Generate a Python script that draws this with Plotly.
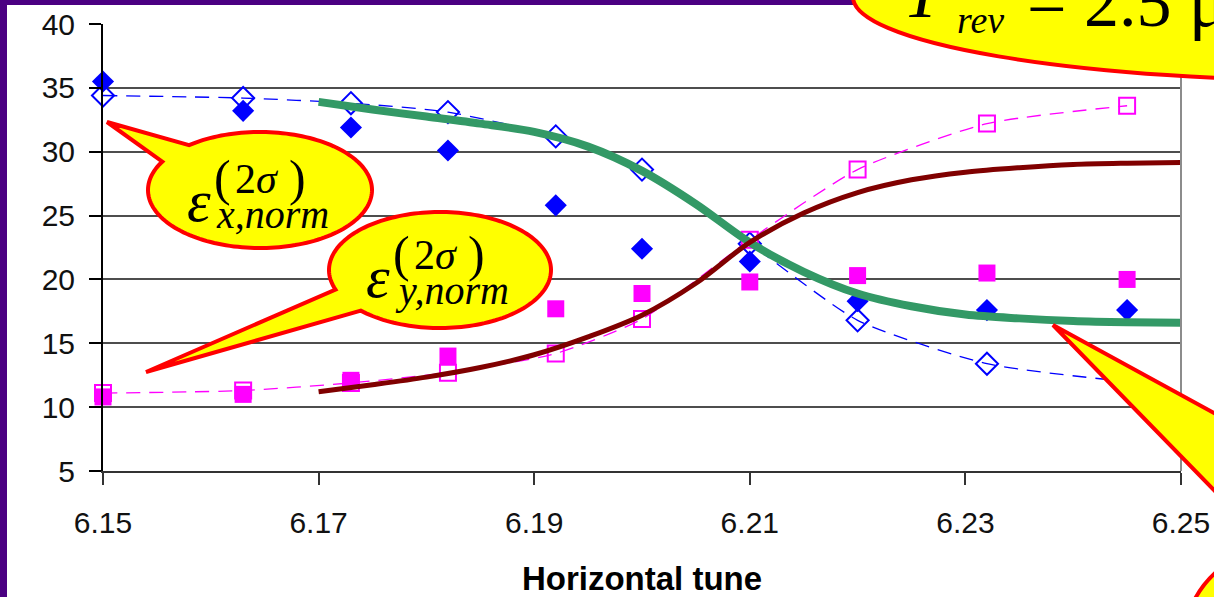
import math
import plotly.graph_objects as go

# ---- measured emittances vs horizontal tune ----
tune = [6.150, 6.163, 6.173, 6.182, 6.192, 6.200, 6.210, 6.220, 6.232, 6.245]
ex_filled = [35.5, 33.2, 31.9, 30.1, 25.8, 22.4, 21.4, 18.3, 17.6, 17.6]
ex_open = [34.4, 34.2, 33.8, 33.1, 31.2, 28.6, 22.8, 16.8, 13.4, 12.0]
ey_filled = [10.8, 11.0, 12.1, 14.0, 17.7, 18.9, 19.8, 20.3, 20.5, 20.0]
ey_open = [11.1, 11.3, 11.9, 12.7, 14.2, 16.9, 23.1, 28.6, 32.2, 33.6]

# ---- fitted curves ----
fit_tune = [6.170, 6.175, 6.180, 6.185, 6.190, 6.195, 6.200, 6.205, 6.210,
            6.215, 6.220, 6.225, 6.230, 6.235, 6.240, 6.245, 6.250]
ex_fit = [33.9, 33.3, 32.75, 32.2, 31.55, 30.4, 28.5, 25.9, 22.9,
          20.6, 18.9, 17.9, 17.25, 16.95, 16.75, 16.65, 16.6]
ey_fit = [11.2, 11.75, 12.35, 13.1, 14.1, 15.5, 17.2, 19.7, 22.9,
          25.2, 26.8, 27.8, 28.4, 28.75, 29.0, 29.1, 29.15]

x_ticks = [6.15, 6.17, 6.19, 6.21, 6.23, 6.25]
y_ticks = [5, 10, 15, 20, 25, 30, 35, 40]

W, H = 1214, 597
PL, PR, PT, PB = 103, 1181, 24, 471   # plot area in pixels


def px(x):
    return (x - PL) / (PR - PL)


def py(y):
    return (PB - y) / (PB - PT)


BLUE = "#0000FF"
MAGENTA = "#FF00FF"
GREEN = "#339966"
DARKRED = "#800000"
SERIF = "Liberation Serif, Times New Roman, serif"
SANS = "Liberation Sans, Arial, sans-serif"

fig = go.Figure()

fig.add_trace(go.Scatter(
    x=tune, y=ex_open, mode="lines+markers", cliponaxis=False,
    line=dict(color=BLUE, width=1.3, dash="14px,9px", shape="spline", smoothing=0.6),
    marker=dict(symbol="diamond-open", size=17, color=BLUE, line=dict(width=2, color=BLUE)),
))
fig.add_trace(go.Scatter(
    x=tune, y=ey_open, mode="lines+markers", cliponaxis=False,
    line=dict(color=MAGENTA, width=1.3, dash="14px,9px", shape="spline", smoothing=0.6),
    marker=dict(symbol="square-open", size=16, color=MAGENTA, line=dict(width=2, color=MAGENTA)),
))
fig.add_trace(go.Scatter(
    x=tune, y=ex_filled, mode="markers", cliponaxis=False,
    marker=dict(symbol="diamond", size=17, color=BLUE),
))
fig.add_trace(go.Scatter(
    x=tune, y=ey_filled, mode="markers", cliponaxis=False,
    marker=dict(symbol="square", size=17, color=MAGENTA),
))
fig.add_trace(go.Scatter(
    x=fit_tune, y=ex_fit, mode="lines", cliponaxis=False,
    line=dict(color=GREEN, width=8, shape="spline", smoothing=0.9),
))
fig.add_trace(go.Scatter(
    x=fit_tune, y=ey_fit, mode="lines", cliponaxis=False,
    line=dict(color=DARKRED, width=5, shape="spline", smoothing=0.9),
))

shapes = []
# white slide panel on the purple frame
shapes.append(dict(type="rect", xref="paper", yref="paper", layer="below",
                   x0=px(7), x1=px(W + 20), y0=py(5), y1=py(H + 20),
                   fillcolor="white", line=dict(width=0)))
# right border of the plot area
shapes.append(dict(type="line", xref="paper", yref="paper",
                   x0=1, x1=1, y0=0, y1=1, line=dict(color="#8c8c8c", width=2)))


def callout(cx, cy, rx, ry, tip, a0, a1, n=160):
    pts = [tip]
    for i in range(n + 1):
        t = math.radians(a0 + (a1 - a0) * i / n)
        pts.append((cx + rx * math.cos(t), cy + ry * math.sin(t)))
    d = "M {:.5f},{:.5f} ".format(px(pts[0][0]), py(pts[0][1]))
    d += " ".join("L {:.5f},{:.5f}".format(px(x), py(y)) for x, y in pts[1:])
    return dict(type="path", xref="paper", yref="paper", path=d + " Z",
                fillcolor="#FFFF00", line=dict(color="#FF0000", width=4))


# epsilon_x callout
shapes.append(callout(260, 190, 112, 58, (107, 122), -129.3, 209.3))
# epsilon_y callout
shapes.append(callout(440, 270, 111, 58, (146, 372), 160.3, 495.5))
# pointer towards the asymptote (its bubble lies to the right)
ptr = [(1053, 325), (1300, 325 + 247 * 0.547), (1300, 325 + 247 * 1.025)]
shapes.append(dict(type="path", xref="paper", yref="paper",
                   path="M " + " L ".join("{:.5f},{:.5f}".format(px(x), py(y)) for x, y in ptr) + " Z",
                   fillcolor="#FFFF00", line=dict(color="#FF0000", width=4)))
# bubble in the lower right corner
shapes.append(dict(type="circle", xref="paper", yref="paper",
                   x0=px(1185), x1=px(1435), y0=py(538), y1=py(738),
                   fillcolor="#FFFF00", line=dict(color="#FF0000", width=4)))
# revolution-period bubble at the top
shapes.append(dict(type="circle", xref="paper", yref="paper",
                   x0=px(853), x1=px(1847), y0=py(-87), y1=py(81),
                   fillcolor="#FFFF00", line=dict(color="#FF0000", width=4)))

annotations = []


def label(text, x, y, size, xanchor="center"):
    annotations.append(dict(xref="paper", yref="paper", x=px(x), y=py(y), text=text,
                            showarrow=False, xanchor=xanchor, yanchor="middle",
                            font=dict(family=SERIF, size=size, color="black")))


def emittance(plane, dx, dy):
    label("<i>ε</i>", 378 + dx, 277 + dy, 60)
    label("<i>{},norm</i>".format(plane), 393 + dx, 290 + dy, 40, xanchor="left")
    label("(", 401 + dx, 254 + dy, 50)
    label("2<i>σ</i>", 436 + dx, 255 + dy, 42)
    label(")", 476 + dx, 254 + dy, 50)


emittance("x", -179, -76)
emittance("y", 0, 0)

# T_rev = 2.5 us
label("<i>T</i>", 925, -7, 70)
label("<i>rev</i>", 955, 20, 38, xanchor="left")
label("= 2.5 μs", 1025, 3, 70, xanchor="left")

fig.update_layout(
    width=W, height=H,
    margin=dict(l=PL, r=W - PR, t=PT, b=H - PB, pad=0, autoexpand=False),
    paper_bgcolor="#4B0082", plot_bgcolor="white",
    showlegend=False,
    shapes=shapes, annotations=annotations,
    xaxis=dict(range=[6.15, 6.25], tickvals=x_ticks, ticktext=["{:.2f}".format(v) for v in x_ticks],
               automargin=False,
               showgrid=False, zeroline=False, showline=True, linecolor="#333333", linewidth=2,
               ticks="outside", ticklen=12, tickwidth=1.5, tickcolor="#333333",
               ticklabelstandoff=12,
               tickfont=dict(family=SANS, size=30, color="#111111"),
               title=dict(text="<b>Horizontal tune</b>", standoff=36,
                          font=dict(family=SANS, size=33, color="black"))),
    yaxis=dict(range=[5, 40], tickvals=y_ticks, automargin=False,
               showgrid=True, gridcolor="#4d4d4d", gridwidth=1.5, zeroline=False,
               showline=True, linecolor="black", linewidth=2,
               ticks="outside", ticklen=12, tickwidth=1.5, tickcolor="black",
               ticklabelstandoff=8,
               tickfont=dict(family=SANS, size=30, color="#111111")),
)

fig.write_html("out.html")
